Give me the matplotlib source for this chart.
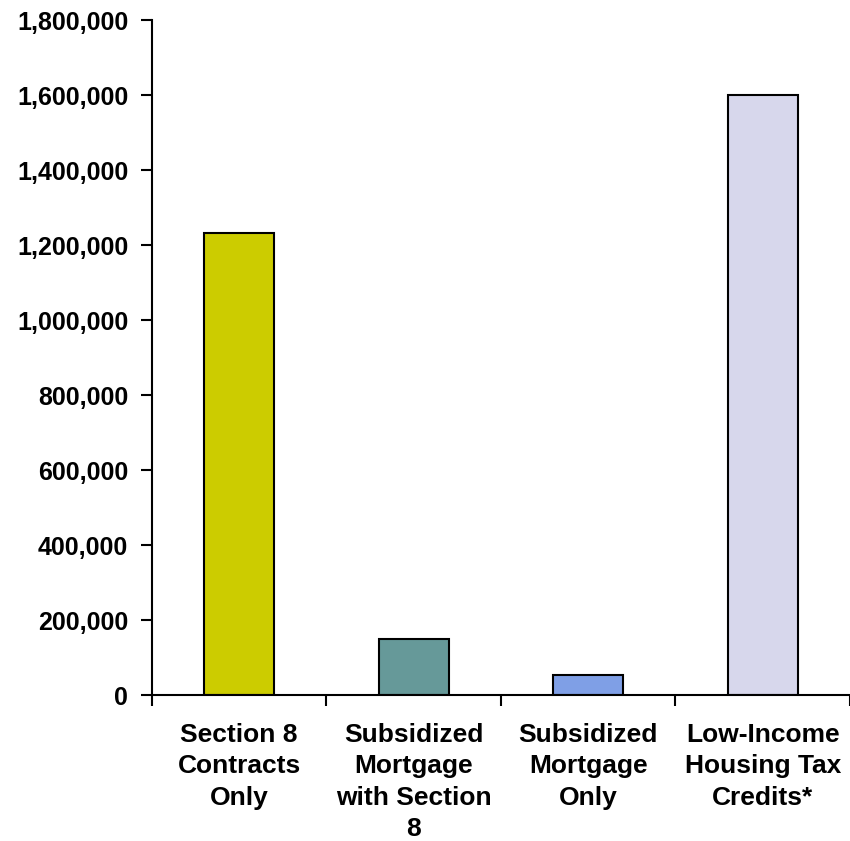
import matplotlib.pyplot as plt
from matplotlib.ticker import FuncFormatter

plt.rcParams['font.family'] = ['Liberation Sans', 'DejaVu Sans']
plt.rcParams['font.weight'] = 'bold'

categories = ["Section 8\nContracts\nOnly",
              "Subsidized\nMortgage\nwith Section\n8",
              "Subsidized\nMortgage\nOnly",
              "Low-Income\nHousing Tax\nCredits*"]
units = [1232000, 148500, 54000, 1600000]
colors = ["#CCCC00", "#669999", "#7F9FE6", "#D7D7EC"]

fig = plt.figure(figsize=(8.5, 8.41), dpi=100)
ax = fig.add_axes([0.1788, 0.1736, 0.8212, 0.8026])

x = list(range(len(categories)))
ax.bar(x, units, width=0.4, color=colors, edgecolor="black", linewidth=1.5)

ax.set_xlim(-0.5, 3.5)
ax.set_ylim(0, 1800000)
ax.set_yticks(range(0, 1800001, 200000))
ax.yaxis.set_major_formatter(FuncFormatter(lambda v, p: f"{int(v):,}"))

ax.set_xticks(x)
ax.set_xticklabels(categories, linespacing=1.39)
ax.set_xticks([-0.5, 0.5, 1.5, 2.5, 3.5], minor=True)
ax.tick_params(axis="x", which="major", length=0, pad=20, labelsize=19)
ax.tick_params(axis="x", which="minor", length=8, width=1.5, direction="out")
ax.tick_params(axis="y", length=8, width=1.5, direction="out", pad=9, labelsize=18)

for side in ["top", "right"]:
    ax.spines[side].set_visible(False)
for side in ["left", "bottom"]:
    ax.spines[side].set_linewidth(1.5)

fig.savefig("out.png", dpi=100)
